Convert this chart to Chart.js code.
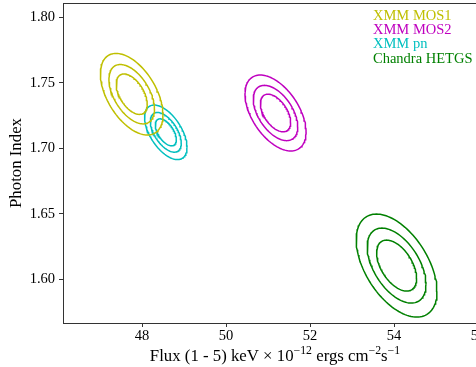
<!DOCTYPE html>
<html>
<head>
<meta charset="utf-8">
<script src="https://cdn.jsdelivr.net/npm/chart.js@4.4.1/dist/chart.umd.min.js"></script>
<style>
html, body { margin: 0; padding: 0; overflow: hidden; background: #fff; }
</style>
</head>
<body>
<canvas id="contourChart" width="500" height="367"></canvas>
<script>
const instruments = ['XMM MOS1', 'XMM MOS2', 'XMM pn', 'Chandra HETGS']
const colors = ['rgb(191,191,0)', 'rgb(191,0,191)', 'rgb(0,191,191)', 'rgb(0,128,0)']
// best fit flux and photon index, and the size of the innermost contour
const fluxCentre = [47.755, 51.179, 48.567, 54.062]
const indexCentre = [1.7413, 1.72695, 1.7122, 1.61046]
const fluxHalfWidth = [0.369, 0.360, 0.250, 0.476]
const indexHalfWidth = [0.01542, 0.01435, 0.0103, 0.01947]
const correlation = [-0.5, -0.5, -0.55, -0.5]
const contourScale = [1, 1.47, 2.02]
const xTicks = [48, 50, 52, 54, 56]
const yTicks = [1.60, 1.65, 1.70, 1.75, 1.80]

const serif = '"Liberation Serif", "Times New Roman", serif'

function contorno(i, s) {
    const puntos = []
    const r = correlation[i]
    for (let k = 0; k <= 120; k++) {
        const t = 2 * Math.PI * k / 120
        puntos.push({
            x: fluxCentre[i] + s * fluxHalfWidth[i] * Math.cos(t),
            y: indexCentre[i] + s * indexHalfWidth[i] * (r * Math.cos(t) + Math.sqrt(1 - r * r) * Math.sin(t))
        })
    }
    return puntos
}

const datasets = []
instruments.forEach((name, i) => {
    for (let s of contourScale) {
        datasets.push({
            label: name,
            data: contorno(i, s),
            borderColor: colors[i],
            borderWidth: 1.5,
            showLine: true,
            pointRadius: 0,
            fill: false,
            tension: 0
        })
    }
})

const extras = {
    id: 'extras',
    afterDraw(chart) {
        const {ctx, chartArea} = chart
        ctx.save()
        ctx.strokeStyle = '#333'
        ctx.lineWidth = 1
        ctx.strokeRect(Math.round(chartArea.left) + 0.5, Math.round(chartArea.top) + 0.5,
            Math.round(chartArea.right - chartArea.left), Math.round(chartArea.bottom - chartArea.top))

        ctx.textBaseline = 'alphabetic'
        ctx.textAlign = 'left'
        ctx.font = '14.5px ' + serif
        instruments.forEach((name, i) => {
            ctx.fillStyle = colors[i]
            ctx.fillText(name, 373, 20 + i * 14.2)
        })

        // x axis title with superscripts
        const partes = [['Flux (1 - 5) keV \u00d7 10', 0], ['\u221212', 1], [' ergs cm', 0], ['\u22122', 1], ['s', 0], ['\u22121', 1]]
        const fuente = sup => (sup ? '11.8px ' : '16.8px ') + serif
        let total = 0
        for (let [txt, sup] of partes) {
            ctx.font = fuente(sup)
            total += ctx.measureText(txt).width
        }
        let x = (chartArea.left + chartArea.right) / 2 - total / 2
        const base = 361
        ctx.fillStyle = '#000'
        for (let [txt, sup] of partes) {
            ctx.font = fuente(sup)
            ctx.fillText(txt, x, sup ? base - 7 : base)
            x += ctx.measureText(txt).width
        }
        ctx.restore()
    }
}

new Chart(contourChart, {
    type: 'scatter',
    data: { datasets: datasets },
    options: {
        responsive: false,
        animation: false,
        layout: { padding: { top: 3, right: 13, left: 0, bottom: 0 } },
        plugins: { legend: { display: false }, tooltip: { enabled: false } },
        scales: {
            x: {
                type: 'linear',
                min: 46.119,
                max: 56.214,
                afterFit: scale => {
                    scale.height = 44
                    scale.paddingLeft = 0
                    scale.paddingRight = 0
                },
                afterBuildTicks: scale => { scale.ticks = xTicks.map(v => ({ value: v })) },
                grid: { drawOnChartArea: false, drawTicks: true, tickLength: 4, color: '#333' },
                border: { display: false },
                ticks: { color: '#000', padding: 0, maxRotation: 0, font: { family: serif, size: 14.5 } }
            },
            y: {
                type: 'linear',
                min: 1.56664,
                max: 1.81092,
                afterFit: scale => {
                    scale.width = 63
                    scale.paddingTop = 0
                    scale.paddingBottom = 0
                },
                afterBuildTicks: scale => { scale.ticks = yTicks.map(v => ({ value: v })) },
                grid: { drawOnChartArea: false, drawTicks: true, tickLength: 4, color: '#333' },
                border: { display: false },
                ticks: { color: '#000', padding: 4, font: { family: serif, size: 14.5 }, callback: v => v.toFixed(2) },
                title: { display: true, text: 'Photon Index', color: '#000', padding: { top: 6.5, bottom: 0 }, font: { family: serif, size: 16.8 } }
            }
        }
    },
    plugins: [extras]
})
</script>
</body>
</html>
